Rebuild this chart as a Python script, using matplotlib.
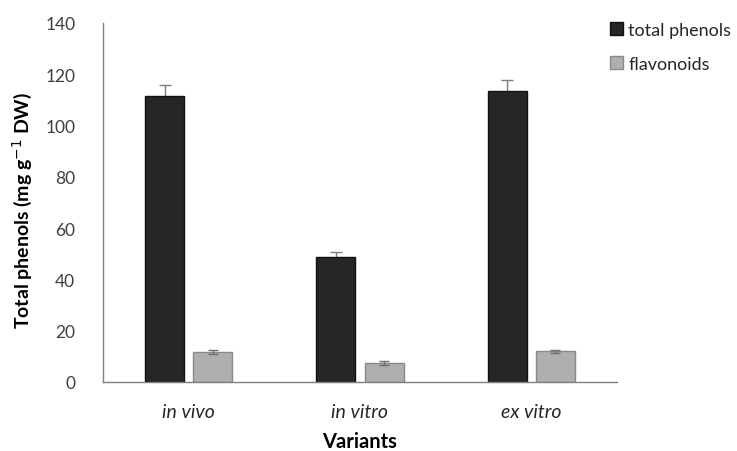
import matplotlib
matplotlib.use("Agg")
import matplotlib.pyplot as plt
import numpy as np

categories = ["in vivo", "in vitro", "ex vitro"]
total_phenols = [111.4, 48.9, 113.5]
total_err = [4.3, 1.7, 4.2]
flavonoids = [11.6, 7.4, 12.0]
flav_err = [0.8, 0.6, 0.6]
series_labels = ["total phenols", "flavonoids"]

plt.rcParams['font.family'] = ['Lato', 'DejaVu Sans']

fig = plt.figure(figsize=(7.37, 4.52), dpi=100)
ax = fig.add_axes([0.1398, 0.1527, 0.837 - 0.1398, 0.947 - 0.1527])

x = np.arange(len(categories))
w = 0.228
off = 0.141
b1 = ax.bar(x - off, total_phenols, w, yerr=total_err, capsize=4.5,
            color="#262626", edgecolor="#111111", linewidth=1.0,
            label=series_labels[0], zorder=2,
            error_kw=dict(ecolor="#7f7f7f", elinewidth=1.0, capthick=1.0, zorder=1))
b2 = ax.bar(x + off, flavonoids, w, yerr=flav_err, capsize=3.5,
            color="#b1aeae", edgecolor="#8a8888", linewidth=1.0,
            label=series_labels[1], zorder=2,
            error_kw=dict(ecolor="#6f6f6f", elinewidth=1.0, capthick=1.0, zorder=3))

ax.set_xlim(-0.5, 2.5)
ax.set_ylim(0, 140)
ax.set_yticks(np.arange(0, 141, 20))
ax.set_xticks(x)
ax.set_xticklabels(categories, fontstyle="italic", fontsize=14, color="#262626")
ax.tick_params(axis="y", length=0, labelsize=12.5, labelcolor="#404040", pad=20)
ax.tick_params(axis="x", length=0, pad=15)
for s in ["top", "right"]:
    ax.spines[s].set_visible(False)
for s in ["left", "bottom"]:
    ax.spines[s].set_color("#7f7f7f")
    ax.spines[s].set_linewidth(1.0)
    ax.spines[s].set_zorder(4)

ax.set_xlabel("Variants", fontsize=14.5, fontweight="bold", labelpad=8)
fig.text(0.03, 0.535, "Total phenols (mg g$^{-1}$ DW)", rotation=90,
         fontsize=14, fontweight="bold", ha="center", va="center")

fig.legend(handles=[b1, b2], labels=series_labels, loc="upper left",
           bbox_to_anchor=(0.818, 0.965), frameon=False, fontsize=13,
           handlelength=0.7, handleheight=0.7, handletextpad=0.3,
           labelspacing=1.0, borderaxespad=0, labelcolor="#262626")

fig.savefig("out.png", dpi=100)
